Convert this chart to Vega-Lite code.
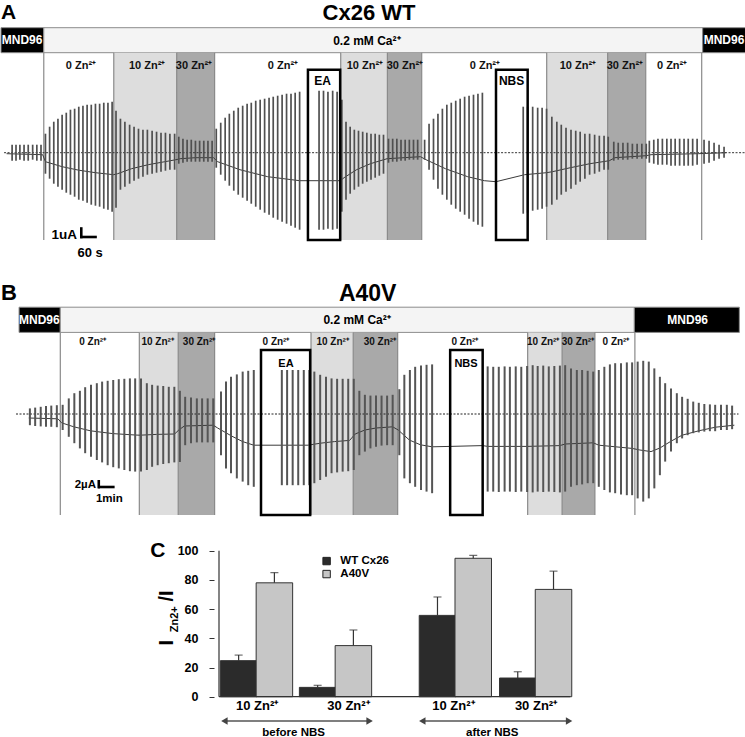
{
"$schema": "https://vega.github.io/schema/vega-lite/v6.json",
"padding": 0,
"spacing": 0,
"bounds": "flush",
"background": "white",
"config": {"view": {"stroke": null}, "font": "Liberation Sans"},
"datasets": {
"pA": [{"t":40,"hi":0.8,"lo":-0.8},{"t":54,"hi":0.8,"lo":-0.8},{"t":68,"hi":0.8,"lo":-0.7},{"t":83,"hi":0.8,"lo":-0.8},{"t":98,"hi":0.8,"lo":-0.8},{"t":114,"hi":0.8,"lo":-0.7},{"t":129,"hi":0.8,"lo":-0.8},{"t":144,"hi":0.8,"lo":-0.8},
{"t":160,"hi":1.9,"lo":-2.1},{"t":175,"hi":2.6,"lo":-2.6},{"t":190,"hi":3.1,"lo":-3.1},{"t":205,"hi":3.4,"lo":-3.4},{"t":220,"hi":3.8,"lo":-3.7},{"t":235,"hi":4.0,"lo":-4.0},{"t":250,"hi":4.3,"lo":-4.2},{"t":265,"hi":4.4,"lo":-4.4},{"t":280,"hi":4.6,"lo":-4.7},{"t":295,"hi":4.7,"lo":-4.8},{"t":310,"hi":4.8,"lo":-5.0},{"t":325,"hi":4.8,"lo":-5.2},{"t":340,"hi":4.9,"lo":-5.3},{"t":355,"hi":4.9,"lo":-5.4},{"t":370,"hi":5.0,"lo":-5.6},{"t":385,"hi":5.0,"lo":-5.7},{"t":400,"hi":5.1,"lo":-5.9},
{"t":414,"hi":4.2,"lo":-5.5},{"t":430,"hi":3.4,"lo":-3.7},{"t":446,"hi":3.1,"lo":-3.4},{"t":463,"hi":2.8,"lo":-3.1},{"t":479,"hi":2.6,"lo":-2.8},{"t":495,"hi":2.4,"lo":-2.6},{"t":511,"hi":2.3,"lo":-2.4},{"t":527,"hi":2.3,"lo":-2.2},{"t":544,"hi":2.2,"lo":-2.1},{"t":560,"hi":2.1,"lo":-2.0},{"t":576,"hi":2.0,"lo":-1.9},{"t":592,"hi":2.0,"lo":-1.8},{"t":608,"hi":1.9,"lo":-1.7},{"t":625,"hi":1.9,"lo":-1.7},
{"t":640,"hi":1.6,"lo":-1.1},{"t":655,"hi":1.4,"lo":-1.0},{"t":670,"hi":1.3,"lo":-0.9},{"t":685,"hi":1.3,"lo":-0.9},{"t":700,"hi":1.2,"lo":-0.9},{"t":715,"hi":1.2,"lo":-0.9},{"t":730,"hi":1.2,"lo":-0.9},{"t":745,"hi":1.2,"lo":-0.9},{"t":760,"hi":1.2,"lo":-0.9},
{"t":775,"hi":2.4,"lo":-1.5},{"t":791,"hi":3.0,"lo":-2.2},{"t":807,"hi":3.5,"lo":-2.8},{"t":822,"hi":3.9,"lo":-3.3},{"t":838,"hi":4.2,"lo":-3.8},{"t":854,"hi":4.5,"lo":-4.2},{"t":870,"hi":4.7,"lo":-4.5},{"t":886,"hi":4.9,"lo":-4.8},{"t":901,"hi":5.0,"lo":-5.1},{"t":917,"hi":5.2,"lo":-5.4},{"t":933,"hi":5.3,"lo":-5.7},{"t":949,"hi":5.4,"lo":-6.0},{"t":965,"hi":5.5,"lo":-6.2},{"t":980,"hi":5.6,"lo":-6.5},{"t":996,"hi":5.7,"lo":-6.7},{"t":1012,"hi":5.8,"lo":-6.9},{"t":1028,"hi":5.9,"lo":-7.1},{"t":1044,"hi":5.9,"lo":-7.3},{"t":1059,"hi":6.0,"lo":-7.5},{"t":1075,"hi":6.1,"lo":-7.7},
{"t":1145,"hi":6.2,"lo":-7.7},{"t":1161,"hi":6.2,"lo":-7.7},{"t":1177,"hi":6.1,"lo":-7.6},{"t":1194,"hi":6.2,"lo":-7.7},{"t":1210,"hi":6.1,"lo":-7.6},
{"t":1227,"hi":5.3,"lo":-5.9},{"t":1242,"hi":3.1,"lo":-4.7},{"t":1257,"hi":2.6,"lo":-4.1},{"t":1272,"hi":2.3,"lo":-3.7},{"t":1287,"hi":2.2,"lo":-3.4},{"t":1302,"hi":2.1,"lo":-3.1},{"t":1317,"hi":2.0,"lo":-2.9},{"t":1332,"hi":1.9,"lo":-2.7},{"t":1347,"hi":1.9,"lo":-2.5},{"t":1362,"hi":1.8,"lo":-2.3},{"t":1377,"hi":1.8,"lo":-2.1},
{"t":1395,"hi":1.4,"lo":-1.0},{"t":1410,"hi":1.4,"lo":-0.9},{"t":1425,"hi":1.4,"lo":-0.9},{"t":1440,"hi":1.3,"lo":-0.8},{"t":1455,"hi":1.3,"lo":-0.8},{"t":1470,"hi":1.3,"lo":-0.7},{"t":1485,"hi":1.3,"lo":-0.7},{"t":1500,"hi":1.3,"lo":-0.7},
{"t":1525,"hi":1.3,"lo":-0.7},{"t":1541,"hi":2.9,"lo":-1.7},{"t":1557,"hi":3.4,"lo":-2.7},{"t":1573,"hi":3.9,"lo":-3.6},{"t":1589,"hi":4.4,"lo":-4.2},{"t":1605,"hi":4.8,"lo":-4.7},{"t":1621,"hi":5.0,"lo":-5.2},{"t":1637,"hi":5.2,"lo":-5.6},{"t":1653,"hi":5.4,"lo":-5.9},{"t":1669,"hi":5.6,"lo":-6.2},{"t":1685,"hi":5.7,"lo":-6.6},{"t":1701,"hi":5.8,"lo":-6.9},{"t":1717,"hi":5.9,"lo":-7.2},{"t":1733,"hi":6.0,"lo":-7.4},
{"t":1880,"hi":4.6,"lo":-6.1},{"t":1896,"hi":4.6,"lo":-6.0},{"t":1914,"hi":4.6,"lo":-5.8},{"t":1932,"hi":4.5,"lo":-5.7},{"t":1948,"hi":4.5,"lo":-5.6},{"t":1964,"hi":4.4,"lo":-5.4},
{"t":1983,"hi":3.6,"lo":-5.2},{"t":2001,"hi":3.1,"lo":-4.7},{"t":2017,"hi":2.8,"lo":-4.2},{"t":2034,"hi":2.5,"lo":-3.9},{"t":2052,"hi":2.3,"lo":-3.6},{"t":2069,"hi":2.2,"lo":-3.2},{"t":2085,"hi":2.1,"lo":-2.9},{"t":2102,"hi":1.9,"lo":-2.6},{"t":2119,"hi":1.9,"lo":-2.2},{"t":2137,"hi":1.8,"lo":-2.1},{"t":2154,"hi":1.7,"lo":-1.9},{"t":2171,"hi":1.7,"lo":-1.7},{"t":2186,"hi":1.6,"lo":-1.7},
{"t":2206,"hi":1.1,"lo":-0.8},{"t":2222,"hi":1.0,"lo":-0.7},{"t":2239,"hi":1.0,"lo":-0.7},{"t":2256,"hi":1.0,"lo":-0.7},{"t":2273,"hi":0.9,"lo":-0.6},{"t":2290,"hi":0.9,"lo":-0.6},{"t":2307,"hi":0.9,"lo":-0.6},{"t":2323,"hi":0.9,"lo":-0.6},
{"t":2334,"hi":1.2,"lo":-1.0},{"t":2350,"hi":1.3,"lo":-1.1},{"t":2365,"hi":1.4,"lo":-1.2},{"t":2381,"hi":1.4,"lo":-1.2},{"t":2397,"hi":1.4,"lo":-1.2},{"t":2412,"hi":1.4,"lo":-1.3},{"t":2427,"hi":1.4,"lo":-1.3},{"t":2443,"hi":1.4,"lo":-1.3},{"t":2459,"hi":1.4,"lo":-1.3},{"t":2474,"hi":1.4,"lo":-1.3},{"t":2490,"hi":1.4,"lo":-1.3},{"t":2506,"hi":1.4,"lo":-1.2},
{"t":2531,"hi":1.3,"lo":-1.1},{"t":2549,"hi":1.2,"lo":-1.0},{"t":2567,"hi":1.0,"lo":-0.8},{"t":2585,"hi":0.8,"lo":-0.6},{"t":2603,"hi":0.6,"lo":-0.5}],
"bA": [{"t":20,"v":-0.1},{"t":150,"v":-0.2},{"t":160,"v":-0.9},{"t":220,"v":-1.4},{"t":280,"v":-1.75},{"t":340,"v":-2.0},{"t":405,"v":-2.2},{"t":420,"v":-2.1},{"t":470,"v":-1.6},{"t":530,"v":-1.2},{"t":590,"v":-0.9},{"t":630,"v":-0.7},{"t":645,"v":-0.6},{"t":700,"v":-0.5},{"t":765,"v":-0.5},{"t":780,"v":-0.9},{"t":860,"v":-1.7},{"t":960,"v":-2.4},{"t":1075,"v":-2.8},{"t":1222,"v":-2.8},{"t":1235,"v":-2.5},{"t":1280,"v":-1.7},{"t":1330,"v":-1.1},{"t":1390,"v":-0.6},{"t":1510,"v":-0.4},{"t":1530,"v":-0.7},{"t":1600,"v":-1.6},{"t":1680,"v":-2.4},{"t":1740,"v":-2.8},{"t":1782,"v":-2.9},{"t":1885,"v":-2.2},{"t":1964,"v":-2.0},{"t":1985,"v":-1.9},{"t":2050,"v":-1.5},{"t":2120,"v":-1.1},{"t":2190,"v":-0.8},{"t":2210,"v":-0.5},{"t":2323,"v":-0.3},{"t":2340,"v":-0.2},{"t":2510,"v":-0.1},{"t":2610,"v":0.0}],
"zA": [{"t":406,"t2":632.5,"v":10.0,"v2":-8.73,"zn":"10"},{"t":632.5,"t2":769,"v":10.0,"v2":-8.73,"zn":"30"},{"t":1223,"t2":1391,"v":10.0,"v2":-8.73,"zn":"10"},{"t":1391,"t2":1514.5,"v":10.0,"v2":-8.73,"zn":"30"},{"t":1964.5,"t2":2184,"v":10.0,"v2":-8.73,"zn":"10"},{"t":2184,"t2":2321,"v":10.0,"v2":-8.73,"zn":"30"}],
"gA": [{"t":154,"v":10.0,"v2":-8.73},{"t":406,"v":10.0,"v2":-8.73},{"t":632.5,"v":10.0,"v2":-8.73},{"t":769,"v":10.0,"v2":-8.73},{"t":1223,"v":10.0,"v2":-8.73},{"t":1391,"v":10.0,"v2":-8.73},{"t":1514.5,"v":10.0,"v2":-8.73},{"t":1964.5,"v":10.0,"v2":-8.73},{"t":2184,"v":10.0,"v2":-8.73},{"t":2321,"v":10.0,"v2":-8.73},{"t":2522.5,"v":10.0,"v2":-8.73}],
"hA": [{"t":0,"t2":154,"v":12.5,"v2":10.0,"k":"MND96"},{"t":154,"t2":2526,"v":12.5,"v2":10.0,"k":"Ca"},{"t":2526,"t2":2682,"v":12.5,"v2":10.0,"k":"MND96"}],
"htA": [{"t":76,"v":10.85,"lab":"MND96","k":"MND96"},{"t":1317,"v":10.75,"lab":"0.2 mM Ca²⁺","k":"Ca"},{"t":2603,"v":10.85,"lab":"MND96","k":"MND96"}],
"xA": [{"t":1105,"t2":1221,"v":8.3,"v2":-8.73,"tc":1158,"vl":6.77,"lab":"EA"},{"t":1782,"t2":1896,"v":8.3,"v2":-8.73,"tc":1838,"vl":6.77,"lab":"NBS"}],
"lA": [{"t":288,"v":8.4,"lab":"0 Zn²⁺"},{"t":526,"v":8.4,"lab":"10 Zn²⁺"},{"t":695,"v":8.4,"lab":"30 Zn²⁺"},{"t":1015,"v":8.4,"lab":"0 Zn²⁺"},{"t":1310,"v":8.4,"lab":"10 Zn²⁺"},{"t":1454,"v":8.4,"lab":"30 Zn²⁺"},{"t":1742,"v":8.4,"lab":"0 Zn²⁺"},{"t":2077,"v":8.4,"lab":"10 Zn²⁺"},{"t":2246,"v":8.4,"lab":"30 Zn²⁺"},{"t":2416,"v":8.4,"lab":"0 Zn²⁺"}],
"pB": [{"t":104,"hi":1.4,"lo":-2.8},{"t":123,"hi":1.6,"lo":-3.0},{"t":143,"hi":1.8,"lo":-3.1},{"t":162,"hi":2.0,"lo":-3.2},{"t":181,"hi":2.1,"lo":-3.2},{"t":201,"hi":2.2,"lo":-3.3},
{"t":222,"hi":2.3,"lo":-4.0},{"t":244,"hi":3.9,"lo":-5.7},{"t":264,"hi":5.2,"lo":-7.3},{"t":284,"hi":5.8,"lo":-8.6},{"t":303,"hi":6.7,"lo":-9.8},{"t":324,"hi":7.3,"lo":-10.7},{"t":345,"hi":7.7,"lo":-11.5},{"t":364,"hi":8.1,"lo":-12.1},{"t":384,"hi":8.3,"lo":-12.8},{"t":404,"hi":8.5,"lo":-13.3},{"t":424,"hi":8.7,"lo":-13.6},{"t":444,"hi":8.8,"lo":-14.0},{"t":464,"hi":8.9,"lo":-14.3},{"t":483,"hi":8.9,"lo":-14.4},
{"t":504,"hi":8.9,"lo":-14.4},{"t":525,"hi":7.7,"lo":-14.0},{"t":544,"hi":7.3,"lo":-13.2},{"t":564,"hi":7.1,"lo":-12.8},{"t":584,"hi":7.0,"lo":-12.5},{"t":604,"hi":6.8,"lo":-12.3},{"t":624,"hi":6.8,"lo":-12.1},
{"t":644,"hi":5.8,"lo":-12.0},{"t":663,"hi":4.3,"lo":-7.8},{"t":684,"hi":4.1,"lo":-7.3},{"t":705,"hi":3.9,"lo":-7.1},{"t":724,"hi":3.9,"lo":-7.1},{"t":744,"hi":3.9,"lo":-7.1},{"t":764,"hi":3.9,"lo":-7.1},
{"t":792,"hi":5.6,"lo":-10.3},{"t":810,"hi":8.1,"lo":-13.6},{"t":828,"hi":9.3,"lo":-14.8},{"t":849,"hi":9.9,"lo":-16.1},{"t":870,"hi":10.6,"lo":-16.9},{"t":890,"hi":10.8,"lo":-17.8},{"t":910,"hi":11.0,"lo":-18.2},
{"t":1011,"hi":11.0,"lo":-17.8},{"t":1030,"hi":11.0,"lo":-17.8},{"t":1050,"hi":11.0,"lo":-17.8},{"t":1070,"hi":11.0,"lo":-17.8},{"t":1090,"hi":11.0,"lo":-17.8},
{"t":1110,"hi":11.0,"lo":-17.8},{"t":1128,"hi":10.6,"lo":-17.3},{"t":1149,"hi":9.8,"lo":-16.5},{"t":1170,"hi":9.3,"lo":-15.7},{"t":1190,"hi":8.9,"lo":-14.8},{"t":1210,"hi":8.8,"lo":-14.6},{"t":1230,"hi":8.8,"lo":-14.4},{"t":1250,"hi":8.8,"lo":-14.3},
{"t":1270,"hi":8.8,"lo":-14.0},{"t":1290,"hi":5.8,"lo":-10.3},{"t":1310,"hi":4.8,"lo":-9.4},{"t":1330,"hi":4.6,"lo":-8.6},{"t":1350,"hi":4.6,"lo":-8.2},{"t":1370,"hi":4.6,"lo":-7.9},{"t":1390,"hi":4.6,"lo":-7.8},{"t":1410,"hi":4.8,"lo":-7.8},
{"t":1434,"hi":6.2,"lo":-10.3},{"t":1452,"hi":9.8,"lo":-16.1},{"t":1472,"hi":11.0,"lo":-17.3},{"t":1491,"hi":11.8,"lo":-18.2},{"t":1512,"hi":12.1,"lo":-19.0},{"t":1532,"hi":12.3,"lo":-19.4},{"t":1552,"hi":12.4,"lo":-19.8},
{"t":1752,"hi":11.9,"lo":-19.4},{"t":1772,"hi":11.8,"lo":-19.4},{"t":1792,"hi":11.8,"lo":-19.5},{"t":1813,"hi":11.9,"lo":-19.4},{"t":1832,"hi":11.8,"lo":-19.4},{"t":1853,"hi":11.9,"lo":-19.5},{"t":1873,"hi":11.8,"lo":-19.4},
{"t":1894,"hi":12.0,"lo":-19.5},{"t":1914,"hi":12.2,"lo":-19.6},{"t":1932,"hi":12.0,"lo":-19.4},{"t":1952,"hi":12.1,"lo":-19.5},{"t":1972,"hi":11.9,"lo":-19.4},{"t":1992,"hi":12.0,"lo":-19.5},{"t":2012,"hi":12.1,"lo":-19.6},
{"t":2031,"hi":12.2,"lo":-19.4},{"t":2052,"hi":11.4,"lo":-18.2},{"t":2073,"hi":11.0,"lo":-17.8},{"t":2092,"hi":11.0,"lo":-17.6},{"t":2112,"hi":10.8,"lo":-17.3},{"t":2132,"hi":10.6,"lo":-17.3},
{"t":2152,"hi":11.0,"lo":-18.2},{"t":2172,"hi":11.8,"lo":-19.0},{"t":2192,"hi":12.4,"lo":-19.6},{"t":2211,"hi":12.7,"lo":-19.8},{"t":2232,"hi":12.7,"lo":-20.1},{"t":2253,"hi":12.9,"lo":-20.3},{"t":2272,"hi":12.9,"lo":-20.3},
{"t":2292,"hi":13.1,"lo":-21.1},{"t":2312,"hi":13.3,"lo":-21.9},{"t":2332,"hi":13.1,"lo":-21.1},{"t":2352,"hi":11.4,"lo":-18.6},{"t":2372,"hi":9.3,"lo":-15.3},{"t":2391,"hi":7.7,"lo":-11.9},{"t":2412,"hi":6.4,"lo":-9.4},{"t":2433,"hi":5.2,"lo":-7.3},{"t":2452,"hi":4.3,"lo":-6.1},{"t":2472,"hi":3.8,"lo":-5.3},{"t":2492,"hi":3.1,"lo":-4.8},{"t":2512,"hi":2.8,"lo":-4.6},{"t":2532,"hi":2.5,"lo":-4.4},{"t":2552,"hi":2.4,"lo":-4.3},{"t":2571,"hi":2.3,"lo":-4.3},{"t":2592,"hi":2.3,"lo":-4.0},{"t":2613,"hi":2.3,"lo":-4.0},{"t":2632,"hi":2.1,"lo":-3.8}],
"bB": [{"t":100,"v":-1.0},{"t":205,"v":-1.2},{"t":218,"v":-2.2},{"t":262,"v":-3.2},{"t":322,"v":-4.2},{"t":402,"v":-4.9},{"t":483,"v":-5.25},{"t":500,"v":-5.3},{"t":560,"v":-5.1},{"t":625,"v":-5.0},{"t":640,"v":-4.0},{"t":660,"v":-3.0},{"t":764,"v":-2.8},{"t":780,"v":-3.5},{"t":830,"v":-5.5},{"t":870,"v":-6.9},{"t":910,"v":-7.8},{"t":1105,"v":-7.8},{"t":1150,"v":-7.3},{"t":1200,"v":-6.9},{"t":1255,"v":-6.6},{"t":1275,"v":-5.0},{"t":1310,"v":-4.0},{"t":1350,"v":-3.5},{"t":1410,"v":-3.2},{"t":1430,"v":-4.0},{"t":1470,"v":-6.5},{"t":1510,"v":-7.7},{"t":1552,"v":-8.2},{"t":1617,"v":-8.1},{"t":1734,"v":-7.9},{"t":1752,"v":-8.1},{"t":1894,"v":-8.1},{"t":2012,"v":-7.9},{"t":2031,"v":-7.5},{"t":2132,"v":-7.2},{"t":2152,"v":-7.8},{"t":2272,"v":-8.6},{"t":2300,"v":-9.0},{"t":2340,"v":-9.4},{"t":2372,"v":-8.5},{"t":2412,"v":-6.8},{"t":2452,"v":-5.3},{"t":2512,"v":-4.2},{"t":2572,"v":-3.3},{"t":2640,"v":-2.8}],
"zB": [{"t":498,"t2":638,"v":20.4,"v2":-25.25,"zn":"10"},{"t":638,"t2":769,"v":20.4,"v2":-25.25,"zn":"30"},{"t":1116,"t2":1268,"v":20.4,"v2":-25.25,"zn":"10"},{"t":1268,"t2":1428,"v":20.4,"v2":-25.25,"zn":"30"},{"t":1896,"t2":2020,"v":20.4,"v2":-25.25,"zn":"10"},{"t":2020,"t2":2138,"v":20.4,"v2":-25.25,"zn":"30"}],
"gB": [{"t":213.5,"v":20.4,"v2":-25.25},{"t":498,"v":20.4,"v2":-25.25},{"t":638,"v":20.4,"v2":-25.25},{"t":769,"v":20.4,"v2":-25.25},{"t":1116,"v":20.4,"v2":-25.25},{"t":1268,"v":20.4,"v2":-25.25},{"t":1428,"v":20.4,"v2":-25.25},{"t":1896,"v":20.4,"v2":-25.25},{"t":2020,"v":20.4,"v2":-25.25},{"t":2138,"v":20.4,"v2":-25.25},{"t":2282,"v":20.4,"v2":-25.25}],
"hB": [{"t":65,"t2":213.5,"v":26.7,"v2":20.4,"k":"MND96"},{"t":213.5,"t2":2280,"v":26.7,"v2":20.4,"k":"Ca"},{"t":2280,"t2":2658,"v":26.7,"v2":20.4,"k":"MND96"}],
"htB": [{"t":138,"v":22.5,"lab":"MND96","k":"MND96"},{"t":1282,"v":22.5,"lab":"0.2 mM Ca²⁺","k":"Ca"},{"t":2472,"v":22.5,"lab":"MND96","k":"MND96"}],
"xB": [{"t":936,"t2":1113,"v":16,"v2":-25.25,"tc":1026,"vl":11.75,"lab":"EA"},{"t":1617,"t2":1734,"v":16,"v2":-25.25,"tc":1674,"vl":11.75,"lab":"NBS"}],
"lB": [{"t":330,"v":17.25,"lab":"0 Zn²⁺"},{"t":564,"v":17.25,"lab":"10 Zn²⁺"},{"t":713,"v":17.25,"lab":"30 Zn²⁺"},{"t":990,"v":17.25,"lab":"0 Zn²⁺"},{"t":1194,"v":17.25,"lab":"10 Zn²⁺"},{"t":1364,"v":17.25,"lab":"30 Zn²⁺"},{"t":1670,"v":17.25,"lab":"0 Zn²⁺"},{"t":1952,"v":17.25,"lab":"10 Zn²⁺"},{"t":2077,"v":17.25,"lab":"30 Zn²⁺"},{"t":2214,"v":17.25,"lab":"0 Zn²⁺"}],
"barsC": [{"x":-0.222,"geno":"WT Cx26","val":24.7,"eb":28.5},{"x":0.228,"geno":"A40V","val":78,"eb":85},{"x":0.772,"geno":"WT Cx26","val":6.4,"eb":7.8},{"x":1.222,"geno":"A40V","val":35,"eb":45.7},{"x":2.28,"geno":"WT Cx26","val":55.7,"eb":68.3},{"x":2.73,"geno":"A40V","val":94.8,"eb":96.8},{"x":3.29,"geno":"WT Cx26","val":12.8,"eb":17.1},{"x":3.74,"geno":"A40V","val":73.5,"eb":86}],
"capC": [{"x":-0.222,"val":28.5},{"x":0.228,"val":85},{"x":0.772,"val":7.8},{"x":1.222,"val":45.7},{"x":2.28,"val":68.3},{"x":2.73,"val":96.8},{"x":3.29,"val":17.1},{"x":3.74,"val":86}],
"xlC": [{"x":0.01,"val":-9.1,"lab":"10 Zn²⁺"},{"x":1.16,"val":-9.1,"lab":"30 Zn²⁺"},{"x":2.48,"val":-9.1,"lab":"10 Zn²⁺"},{"x":3.52,"val":-9.1,"lab":"30 Zn²⁺"}],
"arC": [{"x":-0.401,"x2":1.426,"val":-16.6},{"x":2.089,"x2":3.936,"val":-16.6}],
"alC": [{"x":0.47,"val":-26.9,"lab":"before NBS"},{"x":2.97,"val":-26.9,"lab":"after NBS"}],
"lgC": [{"x":0.885,"xt":1.058,"geno":"WT Cx26","val":92.9},{"x":0.885,"xt":1.058,"geno":"A40V","val":84.0}]
},
"vconcat": [
{
"width": 745, "height": 260,
"resolve": {"scale": {"color": "independent"}},
"encoding": {
 "x": {"field": "t", "type": "quantitative", "scale": {"domain": [0, 2682], "nice": false, "zero": false}, "axis": null},
 "y": {"field": "v", "type": "quantitative", "scale": {"domain": [-10.73, 15.27], "nice": false, "zero": false}, "axis": null}
},
"layer": [
 {"data": {"name": "hA"}, "mark": {"type": "rect", "stroke": "#8c8c8c", "strokeWidth": 1},
  "encoding": {"x2": {"field": "t2"}, "y2": {"field": "v2"},
   "color": {"field": "k", "type": "nominal", "scale": {"domain": ["MND96", "Ca"], "range": ["#000000", "#f4f4f4"]}, "legend": null}}},
 {"data": {"name": "zA"}, "mark": {"type": "rect"},
  "encoding": {"x2": {"field": "t2"}, "y2": {"field": "v2"},
   "color": {"field": "zn", "type": "nominal", "scale": {"domain": ["10", "30"], "range": ["#dddddd", "#a9a9a9"]}, "legend": null}}},
 {"data": {"name": "gA"}, "mark": {"type": "rule", "color": "#8a8a8a", "strokeWidth": 1.2},
  "encoding": {"y2": {"field": "v2"}}},
 {"data": {"values": [{"t": 11, "t2": 2682, "v": 0}]}, "mark": {"type": "rule", "color": "#333333", "strokeWidth": 1, "strokeDash": [2, 1.5]},
  "encoding": {"x2": {"field": "t2"}}},
 {"data": {"name": "bA"}, "mark": {"type": "line", "color": "#3a3a3a", "strokeWidth": 1}},
 {"data": {"name": "pA"}, "mark": {"type": "rule", "color": "#505050", "strokeWidth": 1.7},
  "encoding": {"y": {"field": "lo", "type": "quantitative"}, "y2": {"field": "hi"}}},
 {"data": {"name": "xA"}, "mark": {"type": "rect", "fill": "white", "fillOpacity": 0, "stroke": "#000000", "strokeWidth": 2.5},
  "encoding": {"x2": {"field": "t2"}, "y2": {"field": "v2"}}},
 {"data": {"name": "xA"}, "mark": {"type": "text", "fontWeight": "bold", "fontSize": 12, "baseline": "alphabetic", "color": "#000"},
  "encoding": {"x": {"field": "tc", "type": "quantitative"}, "y": {"field": "vl", "type": "quantitative"}, "text": {"field": "lab"}}},
 {"data": {"name": "lA"}, "mark": {"type": "text", "fontWeight": "bold", "fontSize": 11, "baseline": "alphabetic", "color": "#111"},
  "encoding": {"text": {"field": "lab"}}},
 {"data": {"name": "htA"}, "mark": {"type": "text", "fontWeight": "bold", "fontSize": 12, "baseline": "alphabetic"},
  "encoding": {"text": {"field": "lab"},
   "color": {"field": "k", "type": "nominal", "scale": {"domain": ["MND96", "Ca"], "range": ["#ffffff", "#000000"]}, "legend": null}}},
 {"data": {"values": [{"t": 1325, "v": 13.27, "lab": "Cx26 WT"}]}, "mark": {"type": "text", "fontWeight": "bold", "fontSize": 22, "baseline": "alphabetic", "align": "center", "color": "#000"},
  "encoding": {"text": {"field": "lab"}}},
 {"data": {"values": [{"t": 0, "v": 13.37, "lab": "A"}]}, "mark": {"type": "text", "fontWeight": "bold", "fontSize": 21, "baseline": "alphabetic", "align": "left", "color": "#000"},
  "encoding": {"text": {"field": "lab"}}},
 {"data": {"values": [{"t": 289, "v": -7.45, "v2": -8.56}]}, "mark": {"type": "rule", "color": "#000", "strokeWidth": 2.6},
  "encoding": {"y2": {"field": "v2"}}},
 {"data": {"values": [{"t": 285, "t2": 345, "v": -8.43}]}, "mark": {"type": "rule", "color": "#000", "strokeWidth": 2.6},
  "encoding": {"x2": {"field": "t2"}}},
 {"data": {"values": [{"t": 274, "v": -8.66, "lab": "1uA"}]}, "mark": {"type": "text", "fontWeight": "bold", "fontSize": 13.5, "baseline": "alphabetic", "align": "right", "color": "#000"},
  "encoding": {"text": {"field": "lab"}}},
 {"data": {"values": [{"t": 321, "v": -10.4, "lab": "60 s"}]}, "mark": {"type": "text", "fontWeight": "bold", "fontSize": 13, "baseline": "alphabetic", "align": "center", "color": "#000"},
  "encoding": {"text": {"field": "lab"}}}
]
},
{
"width": 745, "height": 262,
"resolve": {"scale": {"color": "independent"}},
"encoding": {
 "x": {"field": "t", "type": "quantitative", "scale": {"domain": [0, 2682], "nice": false, "zero": false}, "axis": null},
 "y": {"field": "v", "type": "quantitative", "scale": {"domain": [-27, 38.5], "nice": false, "zero": false}, "axis": null}
},
"layer": [
 {"data": {"name": "hB"}, "mark": {"type": "rect", "stroke": "#8c8c8c", "strokeWidth": 1},
  "encoding": {"x2": {"field": "t2"}, "y2": {"field": "v2"},
   "color": {"field": "k", "type": "nominal", "scale": {"domain": ["MND96", "Ca"], "range": ["#000000", "#f4f4f4"]}, "legend": null}}},
 {"data": {"name": "zB"}, "mark": {"type": "rect"},
  "encoding": {"x2": {"field": "t2"}, "y2": {"field": "v2"},
   "color": {"field": "zn", "type": "nominal", "scale": {"domain": ["10", "30"], "range": ["#dddddd", "#a9a9a9"]}, "legend": null}}},
 {"data": {"name": "gB"}, "mark": {"type": "rule", "color": "#8a8a8a", "strokeWidth": 1.2},
  "encoding": {"y2": {"field": "v2"}}},
 {"data": {"values": [{"t": 54, "t2": 2655, "v": 0}]}, "mark": {"type": "rule", "color": "#222222", "strokeWidth": 1, "strokeDash": [2, 1.5]},
  "encoding": {"x2": {"field": "t2"}}},
 {"data": {"name": "bB"}, "mark": {"type": "line", "color": "#3a3a3a", "strokeWidth": 1}},
 {"data": {"name": "pB"}, "mark": {"type": "rule", "color": "#555555", "strokeWidth": 2},
  "encoding": {"y": {"field": "lo", "type": "quantitative"}, "y2": {"field": "hi"}}},
 {"data": {"name": "xB"}, "mark": {"type": "rect", "fill": "white", "fillOpacity": 0, "stroke": "#000000", "strokeWidth": 2.5},
  "encoding": {"x2": {"field": "t2"}, "y2": {"field": "v2"}}},
 {"data": {"name": "xB"}, "mark": {"type": "text", "fontWeight": "bold", "fontSize": 11, "baseline": "alphabetic", "color": "#000"},
  "encoding": {"x": {"field": "tc", "type": "quantitative"}, "y": {"field": "vl", "type": "quantitative"}, "text": {"field": "lab"}}},
 {"data": {"name": "lB"}, "mark": {"type": "text", "fontWeight": "bold", "fontSize": 10, "baseline": "alphabetic", "color": "#111"},
  "encoding": {"text": {"field": "lab"}}},
 {"data": {"name": "htB"}, "mark": {"type": "text", "fontWeight": "bold", "fontSize": 12, "baseline": "alphabetic"},
  "encoding": {"text": {"field": "lab"},
   "color": {"field": "k", "type": "nominal", "scale": {"domain": ["MND96", "Ca"], "range": ["#ffffff", "#000000"]}, "legend": null}}},
 {"data": {"values": [{"t": 1320, "v": 28.3, "lab": "A40V"}]}, "mark": {"type": "text", "fontWeight": "bold", "fontSize": 23, "baseline": "alphabetic", "align": "center", "color": "#000"},
  "encoding": {"text": {"field": "lab"}}},
 {"data": {"values": [{"t": 0, "v": 28.5, "lab": "B"}]}, "mark": {"type": "text", "fontWeight": "bold", "fontSize": 22, "baseline": "alphabetic", "align": "left", "color": "#000"},
  "encoding": {"text": {"field": "lab"}}},
 {"data": {"values": [{"t": 352, "v": -16.5, "v2": -18.6}]}, "mark": {"type": "rule", "color": "#000", "strokeWidth": 2.6},
  "encoding": {"y2": {"field": "v2"}}},
 {"data": {"values": [{"t": 349, "t2": 409, "v": -18.25}]}, "mark": {"type": "rule", "color": "#000", "strokeWidth": 2.6},
  "encoding": {"x2": {"field": "t2"}}},
 {"data": {"values": [{"t": 342, "v": -18.5, "lab": "2µA"}]}, "mark": {"type": "text", "fontWeight": "bold", "fontSize": 11.5, "baseline": "alphabetic", "align": "right", "color": "#000"},
  "encoding": {"text": {"field": "lab"}}},
 {"data": {"values": [{"t": 390, "v": -22, "lab": "1min"}]}, "mark": {"type": "text", "fontWeight": "bold", "fontSize": 11.5, "baseline": "alphabetic", "align": "center", "color": "#000"},
  "encoding": {"text": {"field": "lab"}}}
]
},
{
"hconcat": [
 {"width": 213, "height": 215, "data": {"values": [{}]}, "mark": {"type": "text"}, "encoding": {"text": {"value": ""}}},
 {
 "width": 532, "height": 215,
 "encoding": {
  "x": {"field": "x", "type": "quantitative", "scale": {"domain": [-0.469, 6.099], "nice": false, "zero": false}, "axis": null},
  "y": {"field": "val", "type": "quantitative", "scale": {"domain": [-27.6, 119.66], "nice": false, "zero": false},
    "axis": {"values": [0, 20, 40, 60, 80, 100], "domain": false, "grid": false, "ticks": true, "tickSize": 5, "tickColor": "#333", "labelPadding": 11, "labelFontSize": 12.5, "labelFontWeight": "bold", "labelColor": "#000", "title": null}}
 },
 "layer": [
  {"data": {"name": "barsC"}, "mark": {"type": "bar", "width": 36.5, "stroke": "#333333", "strokeWidth": 1},
   "encoding": {"y2": {"datum": 0},
    "color": {"field": "geno", "type": "nominal", "scale": {"domain": ["WT Cx26", "A40V"], "range": ["#2b2b2b", "#c6c6c6"]}, "legend": null}}},
  {"data": {"name": "barsC"}, "mark": {"type": "rule", "color": "#333", "strokeWidth": 1.2},
   "encoding": {"y2": {"field": "eb"}}},
  {"data": {"name": "capC"}, "mark": {"type": "tick", "orient": "horizontal", "size": 8, "thickness": 1.2, "color": "#333"}},
  {"data": {"values": [{"x": -0.469, "val": 0, "val2": 100}]}, "mark": {"type": "rule", "color": "#333", "strokeWidth": 1.2},
   "encoding": {"y2": {"field": "val2"}}},
  {"data": {"values": [{"x": -0.469, "x2": 3.95, "val": 0}]}, "mark": {"type": "rule", "color": "#333", "strokeWidth": 1.2},
   "encoding": {"x2": {"field": "x2"}}},
  {"data": {"name": "xlC"}, "mark": {"type": "text", "fontWeight": "bold", "fontSize": 13, "baseline": "alphabetic", "color": "#000"},
   "encoding": {"text": {"field": "lab"}}},
  {"data": {"name": "arC"}, "mark": {"type": "rule", "color": "#555", "strokeWidth": 1.6},
   "encoding": {"x2": {"field": "x2"}}},
  {"data": {"name": "arC"}, "mark": {"type": "point", "shape": "triangle-left", "filled": true, "size": 55, "color": "#444", "opacity": 1}},
  {"data": {"name": "arC"}, "mark": {"type": "point", "shape": "triangle-right", "filled": true, "size": 55, "color": "#444", "opacity": 1},
   "encoding": {"x": {"field": "x2", "type": "quantitative"}}},
  {"data": {"name": "alC"}, "mark": {"type": "text", "fontWeight": "bold", "fontSize": 11.5, "baseline": "alphabetic", "color": "#000"},
   "encoding": {"text": {"field": "lab"}}},
  {"data": {"name": "lgC"}, "mark": {"type": "point", "shape": "square", "filled": true, "size": 55, "stroke": "#222", "strokeWidth": 1, "opacity": 1},
   "encoding": {"color": {"field": "geno", "type": "nominal", "legend": null}}},
  {"data": {"name": "lgC"}, "mark": {"type": "text", "fontWeight": "bold", "fontSize": 11.5, "baseline": "middle", "align": "left", "color": "#000"},
   "encoding": {"x": {"field": "xt", "type": "quantitative"}, "text": {"field": "geno"}}},
  {"data": {"values": [{"x": -1.333, "val": 95.7, "lab": "C"}]}, "mark": {"type": "text", "fontWeight": "bold", "fontSize": 21, "baseline": "alphabetic", "align": "left", "color": "#000"},
   "encoding": {"text": {"field": "lab"}}},
  {"data": {"values": [{"x": -1.123, "val": 37, "lab": "I"}, {"x": -1.123, "val": 69, "lab": "/I"}]}, "mark": {"type": "text", "fontWeight": "bold", "fontSize": 20, "angle": 270, "baseline": "middle", "align": "center", "color": "#000"},
   "encoding": {"text": {"field": "lab"}}},
  {"data": {"values": [{"x": -1.02, "val": 53, "lab": "Zn2+"}]}, "mark": {"type": "text", "fontWeight": "bold", "fontSize": 11, "angle": 270, "baseline": "middle", "align": "center", "color": "#000"},
   "encoding": {"text": {"field": "lab"}}}
 ]
 }
],
"spacing": 0,
"bounds": "flush"
}
]
}
